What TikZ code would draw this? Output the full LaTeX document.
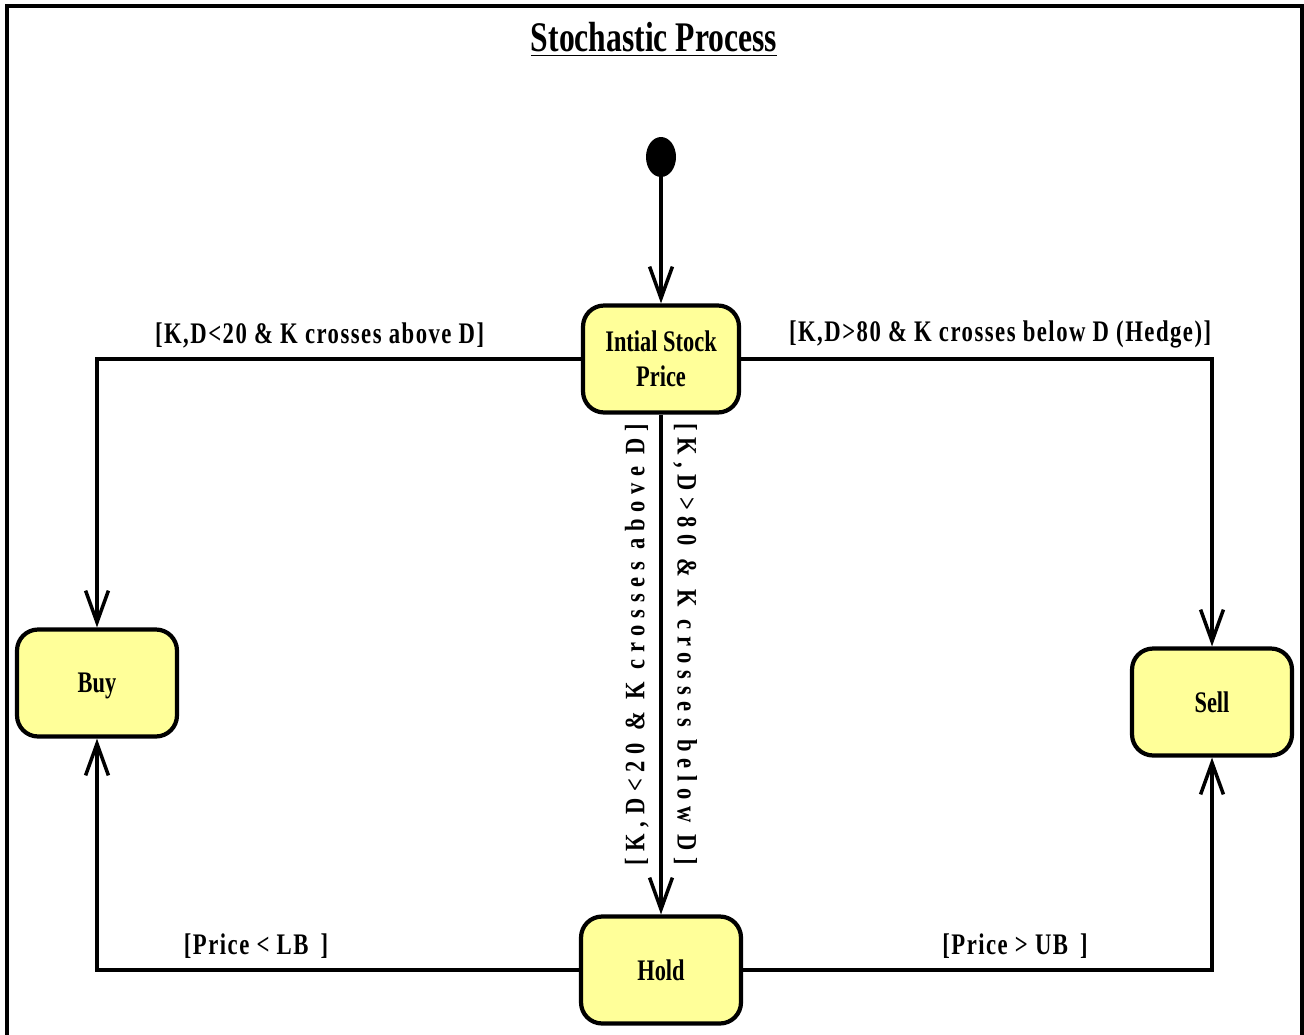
\documentclass[tikz,border=0pt]{standalone}
\usepackage{fontspec}
\setmainfont{Liberation Serif}[FakeStretch=0.75]
\newfontfamily\guardfont{Liberation Serif}[FakeStretch=0.76,LetterSpace=5]
\newfontfamily\vguardfont{Liberation Serif}[FakeStretch=0.8,LetterSpace=24]
\usetikzlibrary{arrows.meta,shapes.geometric}
\definecolor{stateyellow}{RGB}{255,255,153}

\begin{document}
\begin{tikzpicture}[x=0.02cm,y=-0.02cm,
  state/.style={draw,line width=2.4pt,fill=stateyellow,rounded corners=12pt,minimum width=3.2cm,minimum height=2.14cm,align=center,font=\fontsize{17}{20}\selectfont\bfseries},
  trans/.style={line width=2pt,-{Straight Barb[length=18pt,width=13pt]}},
  guard/.style={font=\fontsize{17}{20}\guardfont\bfseries,yshift=2pt},
  vguard/.style={font=\fontsize{16}{19}\vguardfont\bfseries,anchor=south,pos=.46,inner sep=6pt}]
%\draw[help lines] (0,0) grid[step=100] (1304,1034);
\useasboundingbox (0,0) rectangle (1304,1034);
\draw[line width=1.8pt] (7,1040) -- (7,6) -- (1302,6) -- (1302,1040);

\node[anchor=base,font=\fontsize{24}{28}\selectfont\bfseries] at (654,52) (title) {\underline{Stochastic Process}};

\node[ellipse,fill,minimum width=0.6cm,minimum height=0.8cm,inner sep=0pt] at (661,157) (init) {};
\node[state,minimum width=3.12cm] at (661,359) (isp) {Intial Stock\\Price};
\node[state,text depth=0pt] at (97,683) (buy) {Buy};
\node[state] at (1212,702) (sell) {Sell};
\node[state] at (661,970) (hold) {Hold};

\draw[trans] (init) -- (isp);
\draw[trans] (isp) -| node[guard,above,pos=.27] (gbuy) {[K,D<20 \& K crosses above D]} (buy);
\draw[trans] (isp) -| node[guard,above,pos=.275] (gsell) {[K,D>80 \& K crosses below D (Hedge)]} (sell);
\draw[trans] (isp) -- node[vguard,rotate=90] (gholdb) {[K,D<20 \& K crosses above D]}
  node[vguard,rotate=-90] (gholds) {[K,D>80 \& K crosses below D]} (hold);
\draw[trans] (hold) -| node[guard,above,pos=.335] (glb) {[Price < LB\ \,]} (buy);
\draw[trans] (hold) -| node[guard,above,pos=.29] (gub) {[Price > UB\ \,]} (sell);
\end{tikzpicture}
\end{document}
